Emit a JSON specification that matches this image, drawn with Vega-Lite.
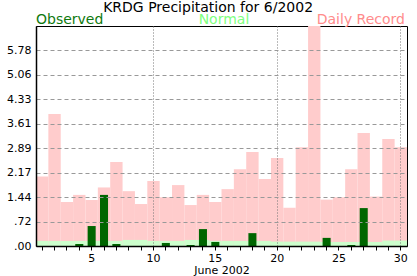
{
  "$schema": "https://vega.github.io/schema/vega-lite/v6.json",
  "width": 371,
  "height": 220,
  "autosize": {"type": "none"},
  "padding": {"left": 36, "top": 26, "right": 10, "bottom": 30},
  "background": "white",
  "config": {"view": {"stroke": "black", "strokeWidth": 1}, "font": "DejaVu Sans"},
  "data": {"values": [
    {"day": 1, "observed": 0, "normal": 0.15, "record": 2.05},
    {"day": 2, "observed": 0, "normal": 0.15, "record": 3.90},
    {"day": 3, "observed": 0, "normal": 0.15, "record": 1.30},
    {"day": 4, "observed": 0.06, "normal": 0.15, "record": 1.51},
    {"day": 5, "observed": 0.59, "normal": 0.15, "record": 1.36},
    {"day": 6, "observed": 1.51, "normal": 0.15, "record": 1.73},
    {"day": 7, "observed": 0.06, "normal": 0.15, "record": 2.48},
    {"day": 8, "observed": 0, "normal": 0.18, "record": 1.62},
    {"day": 9, "observed": 0, "normal": 0.18, "record": 1.24},
    {"day": 10, "observed": 0, "normal": 0.15, "record": 1.92},
    {"day": 11, "observed": 0.09, "normal": 0.15, "record": 1.44},
    {"day": 12, "observed": 0, "normal": 0.15, "record": 1.80},
    {"day": 13, "observed": 0.03, "normal": 0.18, "record": 1.21},
    {"day": 14, "observed": 0.50, "normal": 0.18, "record": 1.51},
    {"day": 15, "observed": 0.12, "normal": 0.15, "record": 1.30},
    {"day": 16, "observed": 0, "normal": 0.15, "record": 1.68},
    {"day": 17, "observed": 0, "normal": 0.15, "record": 2.27},
    {"day": 18, "observed": 0.38, "normal": 0.15, "record": 2.78},
    {"day": 19, "observed": 0, "normal": 0.15, "record": 1.98},
    {"day": 20, "observed": 0, "normal": 0.13, "record": 2.60},
    {"day": 21, "observed": 0, "normal": 0.13, "record": 1.13},
    {"day": 22, "observed": 0, "normal": 0.13, "record": 2.92},
    {"day": 23, "observed": 0, "normal": 0.13, "record": 6.50},
    {"day": 24, "observed": 0.24, "normal": 0.12, "record": 1.37},
    {"day": 25, "observed": 0, "normal": 0.12, "record": 1.44},
    {"day": 26, "observed": 0.03, "normal": 0.12, "record": 2.27},
    {"day": 27, "observed": 1.12, "normal": 0.12, "record": 3.34},
    {"day": 28, "observed": 0, "normal": 0.12, "record": 1.46},
    {"day": 29, "observed": 0, "normal": 0.16, "record": 3.16},
    {"day": 30, "observed": 0, "normal": 0.16, "record": 2.92}
  ]},
  "layer": [
    {
      "mark": {"type": "bar", "color": "#ffcccc", "width": {"band": 1}},
      "encoding": {
        "x": {"field": "day", "type": "ordinal", "scale": {"paddingInner": 0, "paddingOuter": 0},
          "axis": {"title": "June 2002", "titleFontSize": 11, "titleFontWeight": "normal", "titleColor": "black", "titlePadding": 1,
            "labelExpr": "datum.value % 5 === 0 ? datum.label : ''", "labelAngle": 0, "labelFontSize": 11, "labelColor": "black", "labelPadding": 2,
            "labelOverlap": false,
            "ticks": true, "tickSize": 4, "tickColor": "black", "domainColor": "black", "domainWidth": 1.5,
            "grid": true, "gridColor": "#777777", "gridDash": [1, 2],
            "gridOpacity": {"condition": {"test": "datum.value % 10 === 0", "value": 1}, "value": 0},
            "zindex": 1}},
        "y": {"field": "record", "type": "quantitative", "scale": {"domain": [0, 6.5], "clamp": true},
          "axis": {"title": null, "values": [0, 0.72, 1.44, 2.17, 2.89, 3.61, 4.33, 5.06, 5.78], "tickCount": 20,
            "labelExpr": "datum.value < 1 ? replace(format(datum.value, '.2f'), '0.', '.') : format(datum.value, '.2f')",
            "labelFontSize": 11, "labelColor": "black", "labelPadding": 5, "ticks": false,
            "labelOverlap": false, "labelBound": false, "labelFlush": false,
            "domainColor": "black", "domainWidth": 1.5,
            "grid": true, "gridColor": "#999999", "gridDash": [4, 3],
            "gridOpacity": {"condition": {"test": "datum.value === 0", "value": 0}, "value": 1},
            "zindex": 1}}
      }
    },
    {
      "mark": {"type": "bar", "color": "#ccffcc", "width": {"band": 1}},
      "encoding": {
        "x": {"field": "day", "type": "ordinal"},
        "y": {"field": "normal", "type": "quantitative"}
      }
    },
    {
      "mark": {"type": "bar", "color": "#006600", "width": {"band": 0.65}},
      "encoding": {
        "x": {"field": "day", "type": "ordinal"},
        "y": {"field": "observed", "type": "quantitative"}
      }
    },
    {
      "data": {"values": [{"label": "KRDG Precipitation for 6/2002"}]},
      "mark": {"type": "text", "align": "center", "baseline": "alphabetic", "dy": -14, "dx": -1, "fontSize": 14, "color": "black"},
      "encoding": {
        "x": {"datum": 15, "type": "ordinal", "bandPosition": 0},
        "y": {"datum": 6.5, "type": "quantitative"},
        "text": {"field": "label"}
      }
    },
    {
      "data": {"values": [{"label": "Observed"}]},
      "mark": {"type": "text", "align": "left", "baseline": "alphabetic", "dy": -2, "fontSize": 14, "color": "#0f7a0f"},
      "encoding": {
        "x": {"datum": 1, "type": "ordinal", "bandPosition": 0},
        "y": {"datum": 6.5, "type": "quantitative"},
        "text": {"field": "label"}
      }
    },
    {
      "data": {"values": [{"label": "Normal"}]},
      "mark": {"type": "text", "align": "center", "baseline": "alphabetic", "dy": -2, "fontSize": 14, "color": "#80ff80"},
      "encoding": {
        "x": {"datum": 16, "type": "ordinal", "bandPosition": 0.2},
        "y": {"datum": 6.5, "type": "quantitative"},
        "text": {"field": "label"}
      }
    },
    {
      "data": {"values": [{"label": "Daily Record"}]},
      "mark": {"type": "text", "align": "right", "baseline": "alphabetic", "dy": -2, "dx": -2, "fontSize": 14, "color": "#ff8c8c"},
      "encoding": {
        "x": {"datum": 30, "type": "ordinal", "bandPosition": 1},
        "y": {"datum": 6.5, "type": "quantitative"},
        "text": {"field": "label"}
      }
    }
  ]
}
